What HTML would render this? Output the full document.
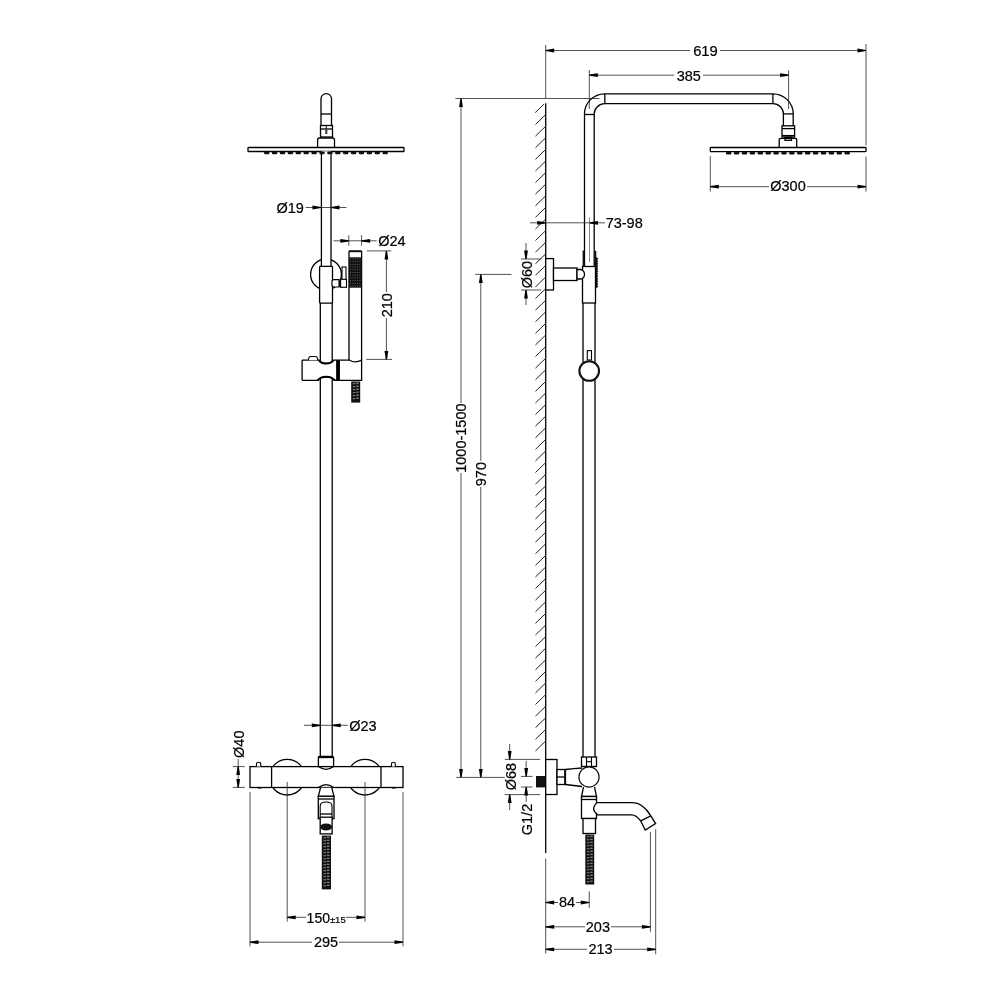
<!DOCTYPE html>
<html><head><meta charset="utf-8"><style>
html,body{margin:0;padding:0;background:#fff;width:1000px;height:1000px;overflow:hidden}
svg{display:block;will-change:transform}
text{font-family:"Liberation Sans",sans-serif;fill:#000;stroke:#000;stroke-width:0.2px}
</style></head><body>
<svg width="1000" height="1000" viewBox="0 0 1000 1000">
<rect width="1000" height="1000" fill="#fff"/>
<path d="M321,125.5 V98.8 A5.25,5.25 0 0 1 331.5,98.8 V125.5" stroke="#000" stroke-width="1.3" fill="none"/>
<line x1="321" y1="114" x2="331.5" y2="114" stroke="#000" stroke-width="1.3" fill="none"/>
<rect x="320.5" y="125.5" width="12.0" height="11.5" rx="0" stroke="#000" stroke-width="1.3" fill="none"/>
<line x1="320.5" y1="129" x2="332.5" y2="129" stroke="#000" stroke-width="1.3" fill="none"/>
<line x1="326.2" y1="125.5" x2="326.2" y2="129" stroke="#000" stroke-width="1"/>
<rect x="325.2" y="129.6" width="2.2" height="4.4" rx="0.6" fill="#444" stroke="none"/>
<path d="M317.6,147.5 V140 Q317.6,138 319.6,138 H332.5 Q334.5,138 334.5,140 V147.5" stroke="#000" stroke-width="1.3" fill="none"/>
<rect x="248" y="147.5" width="156" height="4.0" rx="0.6" stroke="#000" stroke-width="1.3" fill="none"/>
<rect x="321" y="151.5" width="10" height="115.0" rx="0" fill="#fff" stroke="none"/>
<circle cx="326" cy="274.4" r="15.4" fill="none" stroke="#000" stroke-width="1.3"/>
<rect x="321" y="151.5" width="10" height="115.0" rx="0" fill="#fff" stroke="none"/>
<line x1="321.4" y1="151.5" x2="321.4" y2="266.5" stroke="#000" stroke-width="1.3" fill="none"/>
<line x1="331" y1="151.5" x2="331" y2="266.5" stroke="#000" stroke-width="1.3" fill="none"/>
<rect x="264.0" y="151.5" width="5.4" height="2.7" rx="1.2" fill="#111"/>
<rect x="271.9" y="151.5" width="5.4" height="2.7" rx="1.2" fill="#111"/>
<rect x="279.8" y="151.5" width="5.4" height="2.7" rx="1.2" fill="#111"/>
<rect x="287.7" y="151.5" width="5.4" height="2.7" rx="1.2" fill="#111"/>
<rect x="295.6" y="151.5" width="5.4" height="2.7" rx="1.2" fill="#111"/>
<rect x="303.5" y="151.5" width="5.4" height="2.7" rx="1.2" fill="#111"/>
<rect x="311.4" y="151.5" width="5.4" height="2.7" rx="1.2" fill="#111"/>
<rect x="319.3" y="151.5" width="5.4" height="2.7" rx="1.2" fill="#111"/>
<rect x="327.2" y="151.5" width="5.4" height="2.7" rx="1.2" fill="#111"/>
<rect x="335.1" y="151.5" width="5.4" height="2.7" rx="1.2" fill="#111"/>
<rect x="343.0" y="151.5" width="5.4" height="2.7" rx="1.2" fill="#111"/>
<rect x="350.9" y="151.5" width="5.4" height="2.7" rx="1.2" fill="#111"/>
<rect x="358.8" y="151.5" width="5.4" height="2.7" rx="1.2" fill="#111"/>
<rect x="366.7" y="151.5" width="5.4" height="2.7" rx="1.2" fill="#111"/>
<rect x="374.6" y="151.5" width="5.4" height="2.7" rx="1.2" fill="#111"/>
<rect x="382.5" y="151.5" width="5.4" height="2.7" rx="1.2" fill="#111"/>
<rect x="319.6" y="266.4" width="12.9" height="36.7" rx="0.8" fill="#fff" stroke="#000" stroke-width="1.3"/>
<rect x="342" y="267" width="4" height="12.6" rx="0" fill="#fff" stroke="#000" stroke-width="1.1"/>
<path d="M339,279.6 H334 Q332,279.6 332,281.6 V285 Q332,287 334,287 H339 Z" fill="#fff" stroke="#000" stroke-width="1.1"/>
<rect x="339" y="279.6" width="1.6" height="7.4" rx="0" fill="#111" stroke="none"/>
<rect x="340.6" y="279.3" width="5.9" height="8.0" rx="0" fill="#fff" stroke="#000" stroke-width="1.1"/>
<line x1="320.3" y1="303.1" x2="320.3" y2="757" stroke="#000" stroke-width="1.3" fill="none"/>
<line x1="332.2" y1="303.1" x2="332.2" y2="757" stroke="#000" stroke-width="1.3" fill="none"/>
<line x1="349" y1="251" x2="349" y2="360" stroke="#000" stroke-width="1.3" fill="none"/>
<line x1="361.6" y1="251" x2="361.6" y2="360" stroke="#000" stroke-width="1.3" fill="none"/>
<rect x="349" y="250.2" width="12.6" height="2.0" rx="0" fill="#111" stroke="none"/>
<rect x="349" y="257.3" width="12.6" height="30.4" rx="0" fill="#111" stroke="none"/>
<rect x="350.2" y="258.5" width="0.9" height="0.9" fill="#777"/>
<rect x="352.5" y="258.5" width="0.9" height="0.9" fill="#777"/>
<rect x="354.8" y="258.5" width="0.9" height="0.9" fill="#777"/>
<rect x="357.1" y="258.5" width="0.9" height="0.9" fill="#777"/>
<rect x="359.4" y="258.5" width="0.9" height="0.9" fill="#777"/>
<rect x="350.2" y="261.2" width="0.9" height="0.9" fill="#777"/>
<rect x="352.5" y="261.2" width="0.9" height="0.9" fill="#777"/>
<rect x="354.8" y="261.2" width="0.9" height="0.9" fill="#777"/>
<rect x="357.1" y="261.2" width="0.9" height="0.9" fill="#777"/>
<rect x="359.4" y="261.2" width="0.9" height="0.9" fill="#777"/>
<rect x="350.2" y="263.9" width="0.9" height="0.9" fill="#777"/>
<rect x="352.5" y="263.9" width="0.9" height="0.9" fill="#777"/>
<rect x="354.8" y="263.9" width="0.9" height="0.9" fill="#777"/>
<rect x="357.1" y="263.9" width="0.9" height="0.9" fill="#777"/>
<rect x="359.4" y="263.9" width="0.9" height="0.9" fill="#777"/>
<rect x="350.2" y="266.6" width="0.9" height="0.9" fill="#777"/>
<rect x="352.5" y="266.6" width="0.9" height="0.9" fill="#777"/>
<rect x="354.8" y="266.6" width="0.9" height="0.9" fill="#777"/>
<rect x="357.1" y="266.6" width="0.9" height="0.9" fill="#777"/>
<rect x="359.4" y="266.6" width="0.9" height="0.9" fill="#777"/>
<rect x="350.2" y="269.3" width="0.9" height="0.9" fill="#777"/>
<rect x="352.5" y="269.3" width="0.9" height="0.9" fill="#777"/>
<rect x="354.8" y="269.3" width="0.9" height="0.9" fill="#777"/>
<rect x="357.1" y="269.3" width="0.9" height="0.9" fill="#777"/>
<rect x="359.4" y="269.3" width="0.9" height="0.9" fill="#777"/>
<rect x="350.2" y="272.0" width="0.9" height="0.9" fill="#777"/>
<rect x="352.5" y="272.0" width="0.9" height="0.9" fill="#777"/>
<rect x="354.8" y="272.0" width="0.9" height="0.9" fill="#777"/>
<rect x="357.1" y="272.0" width="0.9" height="0.9" fill="#777"/>
<rect x="359.4" y="272.0" width="0.9" height="0.9" fill="#777"/>
<rect x="350.2" y="274.7" width="0.9" height="0.9" fill="#777"/>
<rect x="352.5" y="274.7" width="0.9" height="0.9" fill="#777"/>
<rect x="354.8" y="274.7" width="0.9" height="0.9" fill="#777"/>
<rect x="357.1" y="274.7" width="0.9" height="0.9" fill="#777"/>
<rect x="359.4" y="274.7" width="0.9" height="0.9" fill="#777"/>
<rect x="350.2" y="277.4" width="0.9" height="0.9" fill="#777"/>
<rect x="352.5" y="277.4" width="0.9" height="0.9" fill="#777"/>
<rect x="354.8" y="277.4" width="0.9" height="0.9" fill="#777"/>
<rect x="357.1" y="277.4" width="0.9" height="0.9" fill="#777"/>
<rect x="359.4" y="277.4" width="0.9" height="0.9" fill="#777"/>
<rect x="350.2" y="280.1" width="0.9" height="0.9" fill="#777"/>
<rect x="352.5" y="280.1" width="0.9" height="0.9" fill="#777"/>
<rect x="354.8" y="280.1" width="0.9" height="0.9" fill="#777"/>
<rect x="357.1" y="280.1" width="0.9" height="0.9" fill="#777"/>
<rect x="359.4" y="280.1" width="0.9" height="0.9" fill="#777"/>
<rect x="350.2" y="282.8" width="0.9" height="0.9" fill="#777"/>
<rect x="352.5" y="282.8" width="0.9" height="0.9" fill="#777"/>
<rect x="354.8" y="282.8" width="0.9" height="0.9" fill="#777"/>
<rect x="357.1" y="282.8" width="0.9" height="0.9" fill="#777"/>
<rect x="359.4" y="282.8" width="0.9" height="0.9" fill="#777"/>
<rect x="350.2" y="285.5" width="0.9" height="0.9" fill="#777"/>
<rect x="352.5" y="285.5" width="0.9" height="0.9" fill="#777"/>
<rect x="354.8" y="285.5" width="0.9" height="0.9" fill="#777"/>
<rect x="357.1" y="285.5" width="0.9" height="0.9" fill="#777"/>
<rect x="359.4" y="285.5" width="0.9" height="0.9" fill="#777"/>
<path d="M302.1,361 Q302.1,360.2 303,360.2 H319.1 C321.5,364.6 330.5,364.6 333.4,360.2 H336.8 V380.4 H334.7 C331,375.6 321.5,375.6 317.7,380.4 H303 Q302.1,380.4 302.1,379.5 Z" fill="#fff" stroke="#000" stroke-width="1.3"/>
<path d="M319.1,360.2 C321.5,364.6 330.5,364.6 333.4,360.2 M334.7,380.4 C331,375.6 321.5,375.6 317.7,380.4" fill="none" stroke="#000" stroke-width="2"/>
<rect x="336.8" y="359.6" width="2.7" height="21.4" rx="0" fill="#000" stroke="none"/>
<path d="M339.3,360.2 H349.7 Q355,363.4 361.6,360.2 V380.4 H339.3 Z" fill="#fff" stroke="#000" stroke-width="1.3"/>
<path d="M308.5,360.2 Q308.5,356.5 311,356.5 H315.5 Q317.7,356.5 317.7,360.2" fill="#fff" stroke="#000" stroke-width="1.1"/>
<rect x="351.2" y="381.5" width="9.0" height="21.1" fill="#111"/>
<rect x="352.82" y="383.10" width="2.52" height="1.1" fill="#888"/>
<rect x="356.15" y="382.60" width="2.52" height="1.1" fill="#999"/>
<rect x="352.82" y="386.10" width="2.52" height="1.1" fill="#888"/>
<rect x="356.15" y="385.60" width="2.52" height="1.1" fill="#999"/>
<rect x="352.82" y="389.10" width="2.52" height="1.1" fill="#888"/>
<rect x="356.15" y="388.60" width="2.52" height="1.1" fill="#999"/>
<rect x="352.82" y="392.10" width="2.52" height="1.1" fill="#888"/>
<rect x="356.15" y="391.60" width="2.52" height="1.1" fill="#999"/>
<rect x="352.82" y="395.10" width="2.52" height="1.1" fill="#888"/>
<rect x="356.15" y="394.60" width="2.52" height="1.1" fill="#999"/>
<rect x="352.82" y="398.10" width="2.52" height="1.1" fill="#888"/>
<rect x="356.15" y="397.60" width="2.52" height="1.1" fill="#999"/>
<path d="M318.4,766.6 V757 Q318.4,756.4 320.3,756.4 H332.2 Q333.6,756.4 333.6,757.5 V766.6" fill="#fff" stroke="#000" stroke-width="1.3"/>
<line x1="319" y1="757.5" x2="333" y2="757.5" stroke="#000" stroke-width="1.3" fill="none"/>
<circle cx="287.2" cy="777.2" r="17.8" fill="none" stroke="#000" stroke-width="1.3"/>
<circle cx="365" cy="777.2" r="17.8" fill="none" stroke="#000" stroke-width="1.3"/>
<rect x="250" y="766.6" width="153" height="20.9" rx="0" fill="#fff" stroke="#000" stroke-width="1.3"/>
<line x1="271.6" y1="766.6" x2="271.6" y2="787.5" stroke="#000" stroke-width="1.3" fill="none"/>
<line x1="381" y1="766.6" x2="381" y2="787.5" stroke="#000" stroke-width="1.3" fill="none"/>
<path d="M318.8,766.8 Q326,772 333.4,766.8" fill="none" stroke="#000" stroke-width="1.1"/>
<path d="M318.8,787.3 Q326,782 333.4,787.3" fill="none" stroke="#000" stroke-width="1.1"/>
<path d="M256.5,766.6 V763.8 Q256.5,762.2 258.6,762.2 Q260.8,762.2 260.8,763.8 V766.6" fill="#fff" stroke="#000" stroke-width="1.1"/>
<path d="M391.5,766.6 V763.8 Q391.5,762.2 393.4,762.2 Q395.3,762.2 395.3,763.8 V766.6" fill="#fff" stroke="#000" stroke-width="1.1"/>
<line x1="258" y1="788" x2="261.5" y2="788" stroke="#000" stroke-width="1.1"/>
<line x1="392" y1="788" x2="395.5" y2="788" stroke="#000" stroke-width="1.1"/>
<path d="M320.5,787.8 L318.3,796.3 H334 L331.8,787.8" fill="#fff" stroke="#000" stroke-width="1.3"/>
<rect x="318.3" y="796.3" width="15.7" height="22.4" rx="0" fill="#fff" stroke="#000" stroke-width="1.3"/>
<line x1="318.3" y1="799" x2="334" y2="799" stroke="#000" stroke-width="1.3" fill="none"/>
<path d="M320.2,818 V806 Q320.2,802 326,802 Q332,802 332,806 V818" fill="none" stroke="#000" stroke-width="1.1"/>
<line x1="320.2" y1="814" x2="332" y2="814" stroke="#000" stroke-width="1.3" fill="none"/>
<rect x="320.2" y="817.2" width="11.9" height="16.7" rx="0" fill="#fff" stroke="#000" stroke-width="1.3"/>
<ellipse cx="326.1" cy="827" rx="6" ry="3.4" fill="#111"/>
<rect x="321.8" y="835.6" width="9.2" height="53.8" fill="#111"/>
<rect x="323.46" y="837.20" width="2.58" height="1.1" fill="#888"/>
<rect x="326.86" y="836.70" width="2.58" height="1.1" fill="#999"/>
<rect x="323.46" y="840.20" width="2.58" height="1.1" fill="#888"/>
<rect x="326.86" y="839.70" width="2.58" height="1.1" fill="#999"/>
<rect x="323.46" y="843.20" width="2.58" height="1.1" fill="#888"/>
<rect x="326.86" y="842.70" width="2.58" height="1.1" fill="#999"/>
<rect x="323.46" y="846.20" width="2.58" height="1.1" fill="#888"/>
<rect x="326.86" y="845.70" width="2.58" height="1.1" fill="#999"/>
<rect x="323.46" y="849.20" width="2.58" height="1.1" fill="#888"/>
<rect x="326.86" y="848.70" width="2.58" height="1.1" fill="#999"/>
<rect x="323.46" y="852.20" width="2.58" height="1.1" fill="#888"/>
<rect x="326.86" y="851.70" width="2.58" height="1.1" fill="#999"/>
<rect x="323.46" y="855.20" width="2.58" height="1.1" fill="#888"/>
<rect x="326.86" y="854.70" width="2.58" height="1.1" fill="#999"/>
<rect x="323.46" y="858.20" width="2.58" height="1.1" fill="#888"/>
<rect x="326.86" y="857.70" width="2.58" height="1.1" fill="#999"/>
<rect x="323.46" y="861.20" width="2.58" height="1.1" fill="#888"/>
<rect x="326.86" y="860.70" width="2.58" height="1.1" fill="#999"/>
<rect x="323.46" y="864.20" width="2.58" height="1.1" fill="#888"/>
<rect x="326.86" y="863.70" width="2.58" height="1.1" fill="#999"/>
<rect x="323.46" y="867.20" width="2.58" height="1.1" fill="#888"/>
<rect x="326.86" y="866.70" width="2.58" height="1.1" fill="#999"/>
<rect x="323.46" y="870.20" width="2.58" height="1.1" fill="#888"/>
<rect x="326.86" y="869.70" width="2.58" height="1.1" fill="#999"/>
<rect x="323.46" y="873.20" width="2.58" height="1.1" fill="#888"/>
<rect x="326.86" y="872.70" width="2.58" height="1.1" fill="#999"/>
<rect x="323.46" y="876.20" width="2.58" height="1.1" fill="#888"/>
<rect x="326.86" y="875.70" width="2.58" height="1.1" fill="#999"/>
<rect x="323.46" y="879.20" width="2.58" height="1.1" fill="#888"/>
<rect x="326.86" y="878.70" width="2.58" height="1.1" fill="#999"/>
<rect x="323.46" y="882.20" width="2.58" height="1.1" fill="#888"/>
<rect x="326.86" y="881.70" width="2.58" height="1.1" fill="#999"/>
<rect x="323.46" y="885.20" width="2.58" height="1.1" fill="#888"/>
<rect x="326.86" y="884.70" width="2.58" height="1.1" fill="#999"/>
<line x1="305.6" y1="207.5" x2="346.4" y2="207.5" stroke="#333" stroke-width="0.85" fill="none"/>
<polygon points="321,206.9 312.5,205.6 312.5,209.4 321,208.1" fill="#000"/>
<polygon points="331,206.9 339.5,205.6 339.5,209.4 331,208.1" fill="#000"/>
<text x="290.1" y="212.6" font-size="14.5" text-anchor="middle">Ø19</text>
<line x1="333.6" y1="240.8" x2="376.8" y2="240.8" stroke="#333" stroke-width="0.85" fill="none"/>
<line x1="348.8" y1="235.2" x2="348.8" y2="245.6" stroke="#333" stroke-width="0.85" fill="none"/>
<line x1="361.6" y1="235.2" x2="361.6" y2="245.6" stroke="#333" stroke-width="0.85" fill="none"/>
<polygon points="348.8,240.2 340.3,238.9 340.3,242.7 348.8,241.4" fill="#000"/>
<polygon points="361.6,240.2 370.1,238.9 370.1,242.7 361.6,241.4" fill="#000"/>
<text x="391.9" y="246.2" font-size="14.5" text-anchor="middle">Ø24</text>
<line x1="366.9" y1="250.9" x2="391.2" y2="250.9" stroke="#333" stroke-width="0.85" fill="none"/>
<line x1="366.2" y1="359.4" x2="392" y2="359.4" stroke="#333" stroke-width="0.85" fill="none"/>
<line x1="386.4" y1="250.9" x2="386.4" y2="292" stroke="#333" stroke-width="0.85" fill="none"/>
<line x1="386.4" y1="318" x2="386.4" y2="359.4" stroke="#333" stroke-width="0.85" fill="none"/>
<polygon points="385.8,250.9 384.5,259.4 388.3,259.4 387.0,250.9" fill="#000"/>
<polygon points="385.8,359.4 384.5,350.9 388.3,350.9 387.0,359.4" fill="#000"/>
<text x="392" y="305.2" font-size="14.5" text-anchor="middle" transform="rotate(-90 392 305.2)">210</text>
<line x1="304" y1="725.3" x2="347.8" y2="725.3" stroke="#333" stroke-width="0.85" fill="none"/>
<polygon points="320.3,724.7 311.8,723.4 311.8,727.2 320.3,725.9" fill="#000"/>
<polygon points="332.2,724.7 340.7,723.4 340.7,727.2 332.2,725.9" fill="#000"/>
<text x="363" y="730.9" font-size="14.5" text-anchor="middle">Ø23</text>
<line x1="232.8" y1="766.6" x2="244.8" y2="766.6" stroke="#333" stroke-width="0.85" fill="none"/>
<line x1="232.8" y1="787.4" x2="244.8" y2="787.4" stroke="#333" stroke-width="0.85" fill="none"/>
<line x1="238.2" y1="759" x2="238.2" y2="787.4" stroke="#333" stroke-width="0.85" fill="none"/>
<polygon points="237.6,766.6 236.3,775.1 240.1,775.1 238.8,766.6" fill="#000"/>
<polygon points="237.6,787.4 236.3,778.9 240.1,778.9 238.8,787.4" fill="#000"/>
<text x="244.2" y="744.2" font-size="14.5" text-anchor="middle" transform="rotate(-90 244.2 744.2)">Ø40</text>
<line x1="250" y1="792" x2="250" y2="946.4" stroke="#333" stroke-width="0.85" fill="none"/>
<line x1="403" y1="792" x2="403" y2="946.4" stroke="#333" stroke-width="0.85" fill="none"/>
<line x1="287.2" y1="782" x2="287.2" y2="921.7" stroke="#333" stroke-width="0.85" fill="none"/>
<line x1="365" y1="782" x2="365" y2="921.7" stroke="#333" stroke-width="0.85" fill="none"/>
<line x1="287.2" y1="917.3" x2="306" y2="917.3" stroke="#333" stroke-width="0.85" fill="none"/>
<line x1="346" y1="917.3" x2="365" y2="917.3" stroke="#333" stroke-width="0.85" fill="none"/>
<polygon points="287.2,916.7 295.7,915.4 295.7,919.2 287.2,917.9" fill="#000"/>
<polygon points="365,916.7 356.5,915.4 356.5,919.2 365,917.9" fill="#000"/>
<text x="318.3" y="922.6" font-size="14" text-anchor="middle">150</text>
<text x="337.8" y="922.6" font-size="9.5" text-anchor="middle">±15</text>
<line x1="250" y1="942.2" x2="312" y2="942.2" stroke="#333" stroke-width="0.85" fill="none"/>
<line x1="339" y1="942.2" x2="403" y2="942.2" stroke="#333" stroke-width="0.85" fill="none"/>
<polygon points="250,941.6 258.5,940.3 258.5,944.1 250,942.8" fill="#000"/>
<polygon points="403,941.6 394.5,940.3 394.5,944.1 403,942.8" fill="#000"/>
<text x="326" y="947.2" font-size="14.5" text-anchor="middle">295</text>
<line x1="545.7" y1="103.3" x2="545.7" y2="853" stroke="#000" stroke-width="1.3" fill="none"/>
<line x1="543.9" y1="104.2" x2="535.2" y2="112.6" stroke="#222" stroke-width="1"/>
<line x1="545.7" y1="114.6" x2="535.5" y2="124.5" stroke="#222" stroke-width="1"/>
<line x1="545.7" y1="126.2" x2="535.5" y2="136.1" stroke="#222" stroke-width="1"/>
<line x1="545.7" y1="137.8" x2="535.5" y2="147.70000000000002" stroke="#222" stroke-width="1"/>
<line x1="545.7" y1="149.4" x2="535.5" y2="159.3" stroke="#222" stroke-width="1"/>
<line x1="545.7" y1="161.0" x2="535.5" y2="170.9" stroke="#222" stroke-width="1"/>
<line x1="545.7" y1="172.6" x2="535.5" y2="182.5" stroke="#222" stroke-width="1"/>
<line x1="545.7" y1="184.2" x2="535.5" y2="194.1" stroke="#222" stroke-width="1"/>
<line x1="545.7" y1="195.8" x2="535.5" y2="205.70000000000002" stroke="#222" stroke-width="1"/>
<line x1="545.7" y1="207.39999999999998" x2="535.5" y2="217.29999999999998" stroke="#222" stroke-width="1"/>
<line x1="545.7" y1="219.0" x2="535.5" y2="228.9" stroke="#222" stroke-width="1"/>
<line x1="545.7" y1="230.6" x2="535.5" y2="240.5" stroke="#222" stroke-width="1"/>
<line x1="545.7" y1="242.2" x2="535.5" y2="252.1" stroke="#222" stroke-width="1"/>
<line x1="545.7" y1="253.79999999999998" x2="535.5" y2="263.7" stroke="#222" stroke-width="1"/>
<line x1="545.7" y1="265.4" x2="535.5" y2="275.29999999999995" stroke="#222" stroke-width="1"/>
<line x1="545.7" y1="277.0" x2="535.5" y2="286.9" stroke="#222" stroke-width="1"/>
<line x1="545.7" y1="288.6" x2="535.5" y2="298.5" stroke="#222" stroke-width="1"/>
<line x1="545.7" y1="300.2" x2="535.5" y2="310.09999999999997" stroke="#222" stroke-width="1"/>
<line x1="545.7" y1="311.79999999999995" x2="535.5" y2="321.69999999999993" stroke="#222" stroke-width="1"/>
<line x1="545.7" y1="323.4" x2="535.5" y2="333.29999999999995" stroke="#222" stroke-width="1"/>
<line x1="545.7" y1="335.0" x2="535.5" y2="344.9" stroke="#222" stroke-width="1"/>
<line x1="545.7" y1="346.6" x2="535.5" y2="356.5" stroke="#222" stroke-width="1"/>
<line x1="545.7" y1="358.2" x2="535.5" y2="368.09999999999997" stroke="#222" stroke-width="1"/>
<line x1="545.7" y1="369.8" x2="535.5" y2="379.7" stroke="#222" stroke-width="1"/>
<line x1="545.7" y1="381.4" x2="535.5" y2="391.29999999999995" stroke="#222" stroke-width="1"/>
<line x1="545.7" y1="393.0" x2="535.5" y2="402.9" stroke="#222" stroke-width="1"/>
<line x1="545.7" y1="404.59999999999997" x2="535.5" y2="414.49999999999994" stroke="#222" stroke-width="1"/>
<line x1="545.7" y1="416.2" x2="535.5" y2="426.09999999999997" stroke="#222" stroke-width="1"/>
<line x1="545.7" y1="427.8" x2="535.5" y2="437.7" stroke="#222" stroke-width="1"/>
<line x1="545.7" y1="439.4" x2="535.5" y2="449.29999999999995" stroke="#222" stroke-width="1"/>
<line x1="545.7" y1="451.0" x2="535.5" y2="460.9" stroke="#222" stroke-width="1"/>
<line x1="545.7" y1="462.59999999999997" x2="535.5" y2="472.49999999999994" stroke="#222" stroke-width="1"/>
<line x1="545.7" y1="474.2" x2="535.5" y2="484.09999999999997" stroke="#222" stroke-width="1"/>
<line x1="545.7" y1="485.8" x2="535.5" y2="495.7" stroke="#222" stroke-width="1"/>
<line x1="545.7" y1="497.4" x2="535.5" y2="507.29999999999995" stroke="#222" stroke-width="1"/>
<line x1="545.7" y1="509.0" x2="535.5" y2="518.9" stroke="#222" stroke-width="1"/>
<line x1="545.7" y1="520.5999999999999" x2="535.5" y2="530.4999999999999" stroke="#222" stroke-width="1"/>
<line x1="545.7" y1="532.2" x2="535.5" y2="542.1" stroke="#222" stroke-width="1"/>
<line x1="545.7" y1="543.8" x2="535.5" y2="553.6999999999999" stroke="#222" stroke-width="1"/>
<line x1="545.7" y1="555.4" x2="535.5" y2="565.3" stroke="#222" stroke-width="1"/>
<line x1="545.7" y1="567.0" x2="535.5" y2="576.9" stroke="#222" stroke-width="1"/>
<line x1="545.7" y1="578.5999999999999" x2="535.5" y2="588.4999999999999" stroke="#222" stroke-width="1"/>
<line x1="545.7" y1="590.2" x2="535.5" y2="600.1" stroke="#222" stroke-width="1"/>
<line x1="545.7" y1="601.8" x2="535.5" y2="611.6999999999999" stroke="#222" stroke-width="1"/>
<line x1="545.7" y1="613.4" x2="535.5" y2="623.3" stroke="#222" stroke-width="1"/>
<line x1="545.7" y1="625.0" x2="535.5" y2="634.9" stroke="#222" stroke-width="1"/>
<line x1="545.7" y1="636.6" x2="535.5" y2="646.5" stroke="#222" stroke-width="1"/>
<line x1="545.7" y1="648.1999999999999" x2="535.5" y2="658.0999999999999" stroke="#222" stroke-width="1"/>
<line x1="545.7" y1="659.8" x2="535.5" y2="669.6999999999999" stroke="#222" stroke-width="1"/>
<line x1="545.7" y1="671.4" x2="535.5" y2="681.3" stroke="#222" stroke-width="1"/>
<line x1="545.7" y1="683.0" x2="535.5" y2="692.9" stroke="#222" stroke-width="1"/>
<line x1="545.7" y1="694.6" x2="535.5" y2="704.5" stroke="#222" stroke-width="1"/>
<line x1="545.7" y1="706.1999999999999" x2="535.5" y2="716.0999999999999" stroke="#222" stroke-width="1"/>
<line x1="545.7" y1="717.8" x2="535.5" y2="727.6999999999999" stroke="#222" stroke-width="1"/>
<line x1="545.7" y1="729.4" x2="535.5" y2="739.3" stroke="#222" stroke-width="1"/>
<line x1="545.7" y1="741.0" x2="535.5" y2="750.9" stroke="#222" stroke-width="1"/>
<line x1="545.7" y1="45" x2="545.7" y2="98.5" stroke="#333" stroke-width="0.85" fill="none"/>
<line x1="545.7" y1="858.6" x2="545.7" y2="953.5" stroke="#333" stroke-width="0.85" fill="none"/>
<line x1="545.7" y1="50.5" x2="690" y2="50.5" stroke="#333" stroke-width="0.85" fill="none"/>
<line x1="720" y1="50.5" x2="866" y2="50.5" stroke="#333" stroke-width="0.85" fill="none"/>
<polygon points="545.7,49.9 554.2,48.6 554.2,52.4 545.7,51.1" fill="#000"/>
<polygon points="866,49.9 857.5,48.6 857.5,52.4 866,51.1" fill="#000"/>
<text x="705.5" y="56" font-size="14.8" text-anchor="middle">619</text>
<line x1="866" y1="44" x2="866" y2="145.4" stroke="#333" stroke-width="0.85" fill="none"/>
<line x1="866" y1="156.6" x2="866" y2="191.6" stroke="#333" stroke-width="0.85" fill="none"/>
<line x1="589.3" y1="75.2" x2="674" y2="75.2" stroke="#333" stroke-width="0.85" fill="none"/>
<line x1="703" y1="75.2" x2="788.6" y2="75.2" stroke="#333" stroke-width="0.85" fill="none"/>
<polygon points="589.3,74.6 597.8,73.3 597.8,77.1 589.3,75.8" fill="#000"/>
<polygon points="788.6,74.6 780.1,73.3 780.1,77.1 788.6,75.8" fill="#000"/>
<text x="688.8" y="80.6" font-size="14.5" text-anchor="middle">385</text>
<line x1="589.3" y1="70" x2="589.3" y2="109" stroke="#333" stroke-width="0.85" fill="none"/>
<line x1="788.6" y1="70.5" x2="788.6" y2="109" stroke="#333" stroke-width="0.85" fill="none"/>
<line x1="455.4" y1="98.5" x2="599.5" y2="98.5" stroke="#333" stroke-width="0.85" fill="none"/>
<path d="M584.5,266.5 V113.8 A20.3,20 0 0 1 604.8,93.8 H772.9 A20.3,20 0 0 1 793.2,113.8 V125.8" stroke="#000" stroke-width="1.3" fill="none"/>
<path d="M594.2,266.5 V113.8 A10.6,10.1 0 0 1 604.8,103.7 H772.9 A10.5,10.1 0 0 1 783.4,113.8 V125.8" stroke="#000" stroke-width="1.3" fill="none"/>
<line x1="584.5" y1="114.5" x2="594.2" y2="114.5" stroke="#000" stroke-width="1.3" fill="none"/>
<line x1="604.8" y1="93.8" x2="604.8" y2="103.7" stroke="#000" stroke-width="1.3" fill="none"/>
<line x1="772.9" y1="93.8" x2="772.9" y2="103.7" stroke="#000" stroke-width="1.3" fill="none"/>
<line x1="783.4" y1="113.9" x2="793.2" y2="113.9" stroke="#000" stroke-width="1.3" fill="none"/>
<rect x="782" y="125.8" width="12.6" height="11.2" rx="0" stroke="#000" stroke-width="1.3" fill="none"/>
<line x1="782" y1="128.6" x2="794.6" y2="128.6" stroke="#000" stroke-width="1.3" fill="none"/>
<line x1="782" y1="135.6" x2="794.6" y2="135.6" stroke="#000" stroke-width="1.3" fill="none"/>
<path d="M779.2,147.5 V139.5 Q779.2,138.4 780.5,138.4 H795.4 Q796.7,138.4 796.7,139.5 V147.5" stroke="#000" stroke-width="1.3" fill="none"/>
<rect x="785" y="137.3" width="6.5" height="3.0" rx="0" stroke="#000" stroke-width="1.3" fill="none"/>
<rect x="710.3" y="147.5" width="155.7" height="4.2" rx="0.6" stroke="#000" stroke-width="1.3" fill="none"/>
<rect x="726.0" y="151.7" width="5.4" height="2.7" rx="1.2" fill="#111"/>
<rect x="733.9" y="151.7" width="5.4" height="2.7" rx="1.2" fill="#111"/>
<rect x="741.8" y="151.7" width="5.4" height="2.7" rx="1.2" fill="#111"/>
<rect x="749.7" y="151.7" width="5.4" height="2.7" rx="1.2" fill="#111"/>
<rect x="757.6" y="151.7" width="5.4" height="2.7" rx="1.2" fill="#111"/>
<rect x="765.5" y="151.7" width="5.4" height="2.7" rx="1.2" fill="#111"/>
<rect x="773.4" y="151.7" width="5.4" height="2.7" rx="1.2" fill="#111"/>
<rect x="781.3" y="151.7" width="5.4" height="2.7" rx="1.2" fill="#111"/>
<rect x="789.2" y="151.7" width="5.4" height="2.7" rx="1.2" fill="#111"/>
<rect x="797.1" y="151.7" width="5.4" height="2.7" rx="1.2" fill="#111"/>
<rect x="805.0" y="151.7" width="5.4" height="2.7" rx="1.2" fill="#111"/>
<rect x="812.9" y="151.7" width="5.4" height="2.7" rx="1.2" fill="#111"/>
<rect x="820.8" y="151.7" width="5.4" height="2.7" rx="1.2" fill="#111"/>
<rect x="828.7" y="151.7" width="5.4" height="2.7" rx="1.2" fill="#111"/>
<rect x="836.6" y="151.7" width="5.4" height="2.7" rx="1.2" fill="#111"/>
<rect x="844.5" y="151.7" width="5.4" height="2.7" rx="1.2" fill="#111"/>
<line x1="710.3" y1="156" x2="710.3" y2="191.6" stroke="#333" stroke-width="0.85" fill="none"/>
<line x1="710.3" y1="186.7" x2="769" y2="186.7" stroke="#333" stroke-width="0.85" fill="none"/>
<line x1="807" y1="186.7" x2="866" y2="186.7" stroke="#333" stroke-width="0.85" fill="none"/>
<polygon points="710.3,186.1 718.8,184.8 718.8,188.6 710.3,187.3" fill="#000"/>
<polygon points="866,186.1 857.5,184.8 857.5,188.6 866,187.3" fill="#000"/>
<text x="788" y="191.2" font-size="14.5" text-anchor="middle">Ø300</text>
<line x1="530" y1="222.8" x2="605" y2="222.8" stroke="#333" stroke-width="0.85" fill="none"/>
<polygon points="545.7,222.2 537.2,220.9 537.2,224.7 545.7,223.4" fill="#000"/>
<polygon points="589.5,222.2 598.0,220.9 598.0,224.7 589.5,223.4" fill="#000"/>
<line x1="589.5" y1="217.5" x2="589.5" y2="262" stroke="#555" stroke-width="0.7" fill="none"/>
<text x="624.2" y="228.1" font-size="14.5" text-anchor="middle">73-98</text>
<rect x="582.6" y="250.5" width="1.8" height="16.0" rx="0" fill="#111" stroke="none"/>
<rect x="594.6" y="250.8" width="1.7" height="37.2" rx="0" fill="#111" stroke="none"/>
<rect x="594.6" y="257.3" width="2.8" height="30.5" rx="0" fill="#111" stroke="none"/>
<rect x="597" y="258.0" width="1.1" height="1.4" rx="0.5" fill="#222"/>
<rect x="597" y="260.5" width="1.1" height="1.4" rx="0.5" fill="#222"/>
<rect x="597" y="263.0" width="1.1" height="1.4" rx="0.5" fill="#222"/>
<rect x="597" y="265.5" width="1.1" height="1.4" rx="0.5" fill="#222"/>
<rect x="597" y="268.0" width="1.1" height="1.4" rx="0.5" fill="#222"/>
<rect x="597" y="270.5" width="1.1" height="1.4" rx="0.5" fill="#222"/>
<rect x="597" y="273.0" width="1.1" height="1.4" rx="0.5" fill="#222"/>
<rect x="597" y="275.5" width="1.1" height="1.4" rx="0.5" fill="#222"/>
<rect x="597" y="278.0" width="1.1" height="1.4" rx="0.5" fill="#222"/>
<rect x="597" y="280.5" width="1.1" height="1.4" rx="0.5" fill="#222"/>
<rect x="597" y="283.0" width="1.1" height="1.4" rx="0.5" fill="#222"/>
<rect x="597" y="285.5" width="1.1" height="1.4" rx="0.5" fill="#222"/>
<rect x="582.5" y="266.5" width="13.0" height="36.5" rx="0" fill="#fff" stroke="#000" stroke-width="1.3"/>
<rect x="545.7" y="258.6" width="7.8" height="31.4" rx="0" fill="#fff" stroke="#000" stroke-width="1.3"/>
<rect x="553.5" y="268" width="23.5" height="12.5" rx="0" fill="#fff" stroke="#000" stroke-width="1.3"/>
<path d="M577,269.5 H581 Q584.5,270.5 584.5,274.3 Q584.5,278 581,279 H577 Z" fill="#fff" stroke="#000" stroke-width="1.3"/>
<line x1="583" y1="303" x2="583" y2="757" stroke="#000" stroke-width="1.3" fill="none"/>
<line x1="595" y1="303" x2="595" y2="757" stroke="#000" stroke-width="1.3" fill="none"/>
<line x1="521" y1="259" x2="541" y2="259" stroke="#333" stroke-width="0.85" fill="none"/>
<line x1="521" y1="290" x2="541" y2="290" stroke="#333" stroke-width="0.85" fill="none"/>
<line x1="526" y1="243" x2="526" y2="259" stroke="#333" stroke-width="0.85" fill="none"/>
<line x1="526" y1="290" x2="526" y2="305" stroke="#333" stroke-width="0.85" fill="none"/>
<polygon points="525.4,259 524.1,250.5 527.9,250.5 526.6,259" fill="#000"/>
<polygon points="525.4,290 524.1,298.5 527.9,298.5 526.6,290" fill="#000"/>
<text x="532" y="274.5" font-size="14.5" text-anchor="middle" transform="rotate(-90 532 274.5)">Ø60</text>
<line x1="475.2" y1="274.4" x2="511.5" y2="274.4" stroke="#333" stroke-width="0.85" fill="none"/>
<rect x="587.3" y="350.6" width="4.2" height="9.4" rx="0" fill="#fff" stroke="#000" stroke-width="1.1"/>
<circle cx="589.2" cy="371" r="9.8" fill="#fff" stroke="#111" stroke-width="2.1"/>
<line x1="461" y1="98.5" x2="461" y2="403" stroke="#333" stroke-width="0.85" fill="none"/>
<line x1="461" y1="473" x2="461" y2="777.4" stroke="#333" stroke-width="0.85" fill="none"/>
<polygon points="460.4,98.5 459.1,107.0 462.9,107.0 461.6,98.5" fill="#000"/>
<polygon points="460.4,777.4 459.1,768.9 462.9,768.9 461.6,777.4" fill="#000"/>
<text x="466.4" y="438.1" font-size="14.5" text-anchor="middle" transform="rotate(-90 466.4 438.1)">1000-1500</text>
<line x1="480.8" y1="274.4" x2="480.8" y2="461" stroke="#333" stroke-width="0.85" fill="none"/>
<line x1="480.8" y1="487" x2="480.8" y2="777.4" stroke="#333" stroke-width="0.85" fill="none"/>
<polygon points="480.2,274.4 478.9,282.9 482.7,282.9 481.4,274.4" fill="#000"/>
<polygon points="480.2,777.4 478.9,768.9 482.7,768.9 481.4,777.4" fill="#000"/>
<text x="486.2" y="474.1" font-size="14.5" text-anchor="middle" transform="rotate(-90 486.2 474.1)">970</text>
<line x1="456.2" y1="777.4" x2="504.8" y2="777.4" stroke="#333" stroke-width="0.85" fill="none"/>
<rect x="536" y="776" width="9.6" height="11.4" rx="0" fill="#111" stroke="none"/>
<rect x="545.7" y="759.5" width="11.3" height="35.0" rx="0" fill="#fff" stroke="#000" stroke-width="1.3"/>
<rect x="557" y="769.5" width="8.5" height="15.0" rx="0" fill="#fff" stroke="#000" stroke-width="1.3"/>
<line x1="557" y1="777" x2="565.5" y2="777" stroke="#000" stroke-width="1.3" fill="none"/>
<line x1="565" y1="769.5" x2="565" y2="784.5" stroke="#111" stroke-width="1.8"/>
<path d="M565.5,769.5 Q574,768.5 582,768 M565.5,784.5 Q574,785.5 582,786.5" stroke="#000" stroke-width="1.3" fill="none"/>
<rect x="581.5" y="757" width="15.0" height="9.5" rx="0" fill="#fff" stroke="#000" stroke-width="1.3"/>
<line x1="586.5" y1="757" x2="586.5" y2="766.5" stroke="#000" stroke-width="1.1"/>
<line x1="591.5" y1="757" x2="591.5" y2="766.5" stroke="#000" stroke-width="1.1"/>
<line x1="586.5" y1="761.7" x2="591.5" y2="761.7" stroke="#000" stroke-width="1.1"/>
<path d="M583.5,787 L581.5,796.5 H596.5 L594.5,787" fill="#fff" stroke="#000" stroke-width="1.3"/>
<circle cx="589" cy="777" r="10.1" fill="#fff" stroke="#111" stroke-width="1.2"/>
<rect x="581.5" y="796.5" width="15.0" height="22.0" rx="0" fill="#fff" stroke="#000" stroke-width="1.3"/>
<line x1="581.5" y1="799.5" x2="596.5" y2="799.5" stroke="#000" stroke-width="1.3" fill="none"/>
<path d="M596.8,802.6 H632.4 Q643,802.6 650.8,815.8 L655.6,823.6 L645.2,830 L640.8,821 Q636,814.8 631.6,814.8 H597.6 Q593.6,811 593.6,808.7 Q593.6,806 596.8,802.6 Z" fill="#fff" stroke="#000" stroke-width="1.3"/>
<line x1="640.8" y1="820.8" x2="650.8" y2="815.8" stroke="#000" stroke-width="1.3" fill="none"/>
<rect x="583" y="818.5" width="12.5" height="15.0" rx="0" fill="#fff" stroke="#000" stroke-width="1.3"/>
<rect x="585.3" y="834.6" width="8.9" height="49.9" fill="#111"/>
<rect x="586.90" y="836.20" width="2.49" height="1.1" fill="#888"/>
<rect x="590.20" y="835.70" width="2.49" height="1.1" fill="#999"/>
<rect x="586.90" y="839.20" width="2.49" height="1.1" fill="#888"/>
<rect x="590.20" y="838.70" width="2.49" height="1.1" fill="#999"/>
<rect x="586.90" y="842.20" width="2.49" height="1.1" fill="#888"/>
<rect x="590.20" y="841.70" width="2.49" height="1.1" fill="#999"/>
<rect x="586.90" y="845.20" width="2.49" height="1.1" fill="#888"/>
<rect x="590.20" y="844.70" width="2.49" height="1.1" fill="#999"/>
<rect x="586.90" y="848.20" width="2.49" height="1.1" fill="#888"/>
<rect x="590.20" y="847.70" width="2.49" height="1.1" fill="#999"/>
<rect x="586.90" y="851.20" width="2.49" height="1.1" fill="#888"/>
<rect x="590.20" y="850.70" width="2.49" height="1.1" fill="#999"/>
<rect x="586.90" y="854.20" width="2.49" height="1.1" fill="#888"/>
<rect x="590.20" y="853.70" width="2.49" height="1.1" fill="#999"/>
<rect x="586.90" y="857.20" width="2.49" height="1.1" fill="#888"/>
<rect x="590.20" y="856.70" width="2.49" height="1.1" fill="#999"/>
<rect x="586.90" y="860.20" width="2.49" height="1.1" fill="#888"/>
<rect x="590.20" y="859.70" width="2.49" height="1.1" fill="#999"/>
<rect x="586.90" y="863.20" width="2.49" height="1.1" fill="#888"/>
<rect x="590.20" y="862.70" width="2.49" height="1.1" fill="#999"/>
<rect x="586.90" y="866.20" width="2.49" height="1.1" fill="#888"/>
<rect x="590.20" y="865.70" width="2.49" height="1.1" fill="#999"/>
<rect x="586.90" y="869.20" width="2.49" height="1.1" fill="#888"/>
<rect x="590.20" y="868.70" width="2.49" height="1.1" fill="#999"/>
<rect x="586.90" y="872.20" width="2.49" height="1.1" fill="#888"/>
<rect x="590.20" y="871.70" width="2.49" height="1.1" fill="#999"/>
<rect x="586.90" y="875.20" width="2.49" height="1.1" fill="#888"/>
<rect x="590.20" y="874.70" width="2.49" height="1.1" fill="#999"/>
<rect x="586.90" y="878.20" width="2.49" height="1.1" fill="#888"/>
<rect x="590.20" y="877.70" width="2.49" height="1.1" fill="#999"/>
<rect x="586.90" y="881.20" width="2.49" height="1.1" fill="#888"/>
<rect x="590.20" y="880.70" width="2.49" height="1.1" fill="#999"/>
<line x1="504.8" y1="759.4" x2="540.2" y2="759.4" stroke="#333" stroke-width="0.85" fill="none"/>
<line x1="504.8" y1="794.6" x2="540.2" y2="794.6" stroke="#333" stroke-width="0.85" fill="none"/>
<line x1="509.7" y1="744" x2="509.7" y2="759.4" stroke="#333" stroke-width="0.85" fill="none"/>
<line x1="509.7" y1="794.6" x2="509.7" y2="810" stroke="#333" stroke-width="0.85" fill="none"/>
<polygon points="509.1,759.4 507.8,750.9 511.6,750.9 510.3,759.4" fill="#000"/>
<polygon points="509.1,794.6 507.8,803.1 511.6,803.1 510.3,794.6" fill="#000"/>
<text x="516" y="776.5" font-size="14.5" text-anchor="middle" transform="rotate(-90 516 776.5)">Ø68</text>
<line x1="521" y1="776.4" x2="532.5" y2="776.4" stroke="#333" stroke-width="0.85" fill="none"/>
<line x1="521" y1="787" x2="532.5" y2="787" stroke="#333" stroke-width="0.85" fill="none"/>
<line x1="526.2" y1="760.8" x2="526.2" y2="776.4" stroke="#333" stroke-width="0.85" fill="none"/>
<line x1="526.2" y1="787" x2="526.2" y2="802" stroke="#333" stroke-width="0.85" fill="none"/>
<polygon points="525.6,776.4 524.3,767.9 528.1,767.9 526.8,776.4" fill="#000"/>
<polygon points="525.6,787 524.3,795.5 528.1,795.5 526.8,787" fill="#000"/>
<text x="532.3" y="819.5" font-size="14.5" text-anchor="middle" transform="rotate(-90 532.3 819.5)">G1/2</text>
<line x1="650.4" y1="832" x2="650.4" y2="931.75" stroke="#333" stroke-width="0.85" fill="none"/>
<line x1="655.7" y1="829.2" x2="655.7" y2="954.25" stroke="#333" stroke-width="0.85" fill="none"/>
<line x1="589.25" y1="891.25" x2="589.25" y2="907.75" stroke="#333" stroke-width="0.85" fill="none"/>
<line x1="545.7" y1="902.5" x2="558" y2="902.5" stroke="#333" stroke-width="0.85" fill="none"/>
<line x1="576" y1="902.5" x2="589.25" y2="902.5" stroke="#333" stroke-width="0.85" fill="none"/>
<polygon points="545.7,901.9 554.2,900.6 554.2,904.4 545.7,903.1" fill="#000"/>
<polygon points="589.25,901.9 580.75,900.6 580.75,904.4 589.25,903.1" fill="#000"/>
<text x="567.1" y="907.2" font-size="14.5" text-anchor="middle">84</text>
<line x1="545.7" y1="926.8" x2="585" y2="926.8" stroke="#333" stroke-width="0.85" fill="none"/>
<line x1="611" y1="926.8" x2="650.4" y2="926.8" stroke="#333" stroke-width="0.85" fill="none"/>
<polygon points="545.7,926.2 554.2,924.9 554.2,928.7 545.7,927.4" fill="#000"/>
<polygon points="650.4,926.2 641.9,924.9 641.9,928.7 650.4,927.4" fill="#000"/>
<text x="597.9" y="931.9" font-size="14.5" text-anchor="middle">203</text>
<line x1="545.7" y1="949.3" x2="587" y2="949.3" stroke="#333" stroke-width="0.85" fill="none"/>
<line x1="614" y1="949.3" x2="655.7" y2="949.3" stroke="#333" stroke-width="0.85" fill="none"/>
<polygon points="545.7,948.7 554.2,947.4 554.2,951.2 545.7,949.9" fill="#000"/>
<polygon points="655.7,948.7 647.2,947.4 647.2,951.2 655.7,949.9" fill="#000"/>
<text x="600.5" y="954.3" font-size="14.5" text-anchor="middle">213</text>
</svg></body></html>
